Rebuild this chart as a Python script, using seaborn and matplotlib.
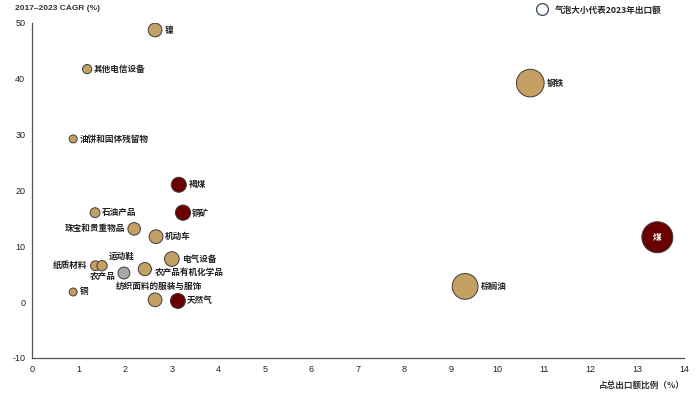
import matplotlib
matplotlib.use("Agg")
import matplotlib.pyplot as plt
from matplotlib.lines import Line2D
import seaborn as sns
import pandas as pd

# ---- data ----
products = ["镍", "其他电信设备", "油饼和固体残留物", "褐煤", "石油产品", "铜矿",
            "珠宝和贵重物品", "机动车", "电气设备", "纸质材料", "运动鞋", "农产品",
            "农产品有机化学品", "铜", "纺织面料的服装与服饰", "天然气", "钢铁",
            "棕榈油", "煤"]
share = [2.64, 1.18, 0.88, 3.15, 1.35, 3.24, 2.19, 2.66, 3.00, 1.36, 1.50, 1.97,
         2.42, 0.88, 2.64, 3.13, 10.70, 9.30, 13.43]
cagr = [48.7, 41.7, 29.2, 21.0, 16.0, 16.0, 13.1, 11.7, 7.7, 6.5, 6.5, 5.2,
        5.9, 1.8, 0.4, 0.2, 39.2, 2.8, 11.6]
group = ["其他", "其他", "其他", "能源", "其他", "能源", "其他", "其他", "其他", "其他",
         "其他", "农产品", "其他", "其他", "其他", "能源", "其他", "其他", "能源"]
x_ticks = list(range(0, 15))
y_ticks = list(range(-10, 51, 10))

df = pd.DataFrame({"product": products, "share": share, "cagr": cagr, "group": group})

# ---- style ----
sns.set_style("white")
plt.rcParams["font.family"] = ["Noto Sans CJK SC", "DejaVu Sans"]

palette = {"其他": "#C4A062", "能源": "#6B0000", "农产品": "#A8A8A8"}

fig = plt.figure(figsize=(7.0, 3.99), dpi=100)
ax = fig.add_axes([0.046, 0.103, 0.931, 0.840])

sns.scatterplot(data=df, x="share", y="cagr", hue="group", palette=palette,
                size="share", sizes=(0, 520), size_norm=(0, 14),
                edgecolor="#3c3c3c", linewidth=0.7, alpha=1, legend=False, ax=ax,
                zorder=3)

ax.set_xlim(0, 14)
ax.set_ylim(-10, 50)
ax.set_xticks(x_ticks)
ax.set_yticks(y_ticks)
tickfont = ["Liberation Sans", "DejaVu Sans"]
ax.set_xticklabels([str(t) for t in x_ticks], fontsize=6.5, family=tickfont, color="#222222")
ax.set_yticklabels([str(t) for t in y_ticks], fontsize=6.5, family=tickfont, color="#222222")
ax.tick_params(axis="both", length=3, width=0.8, color="#555555", pad=2, direction="out")
for s in ["top", "right"]:
    ax.spines[s].set_visible(False)
for s in ["left", "bottom"]:
    ax.spines[s].set_color("#555555")
    ax.spines[s].set_linewidth(0.9)
ax.set_xlabel("")
ax.set_ylabel("")

LW = "bold"
# label offsets (points) and alignment
label_style = {
    "镍": (7, 0, "left"),
    "其他电信设备": (4.5, 0, "left"),
    "油饼和固体残留物": (4.5, 0, "left"),
    "褐煤": (7, 0, "left"),
    "石油产品": (5, 0, "left"),
    "铜矿": (6.5, -0.5, "left"),
    "珠宝和贵重物品": (-6.5, 0, "right"),
    "机动车": (6.5, 0, "left"),
    "电气设备": (7, 0, "left"),
    "纸质材料": (-6, 0, "right"),
    "农产品": (-6, -2.5, "right"),
    "农产品有机化学品": (7, -2.5, "left"),
    "铜": (5, 0, "left"),
    "纺织面料的服装与服饰": (3, 9.5, "center"),
    "天然气": (6.5, 0, "left"),
    "钢铁": (12, 0, "left"),
    "棕榈油": (11, 0, "left"),
}
for p, xv, yv in zip(products, share, cagr):
    if p == "煤":
        ax.annotate(p, (xv, yv), ha="center", va="center", fontsize=6.2,
                    color="white", fontweight=LW, zorder=5)
    elif p == "运动鞋":
        ax.annotate(p, (xv, yv), xytext=(4.5, 7), textcoords="offset points",
                    ha="left", va="center", fontsize=6.2, color="#222222", fontweight=LW,
                    arrowprops=dict(arrowstyle="-", color="#888888", lw=0.6,
                                    shrinkA=0, shrinkB=3), zorder=5)
    else:
        dx, dy, ha = label_style[p]
        ax.annotate(p, (xv, yv), xytext=(dx, dy), textcoords="offset points",
                    ha=ha, va="center", fontsize=6.2, color="#222222",
                    fontweight=LW, zorder=5)

# axis titles
fig.text(15 / 700, 1 - 8 / 399, "2017–2023 CAGR (%)", fontsize=6.0, fontweight="bold",
         family=tickfont, color="#333333", ha="left", va="center")
fig.text(685 / 700, 1 - 385 / 399, "占总出口额比例（%）", fontsize=6.2, fontweight="bold",
         color="#333333", ha="right", va="center")

# size legend
handle = Line2D([], [], marker="o", linestyle="none", markersize=8.5,
                markerfacecolor="none", markeredgecolor="#44546A", markeredgewidth=1.0)
fig.legend([handle], ["气泡大小代表2023年出口额"], loc="center left",
           bbox_to_anchor=(533 / 700, 1 - 10 / 399), frameon=False, fontsize=6.2,
           prop={"weight": "bold", "size": 6.2},
           handletextpad=0.9, borderpad=0, handlelength=1.2)

fig.savefig("out.png", dpi=100)
